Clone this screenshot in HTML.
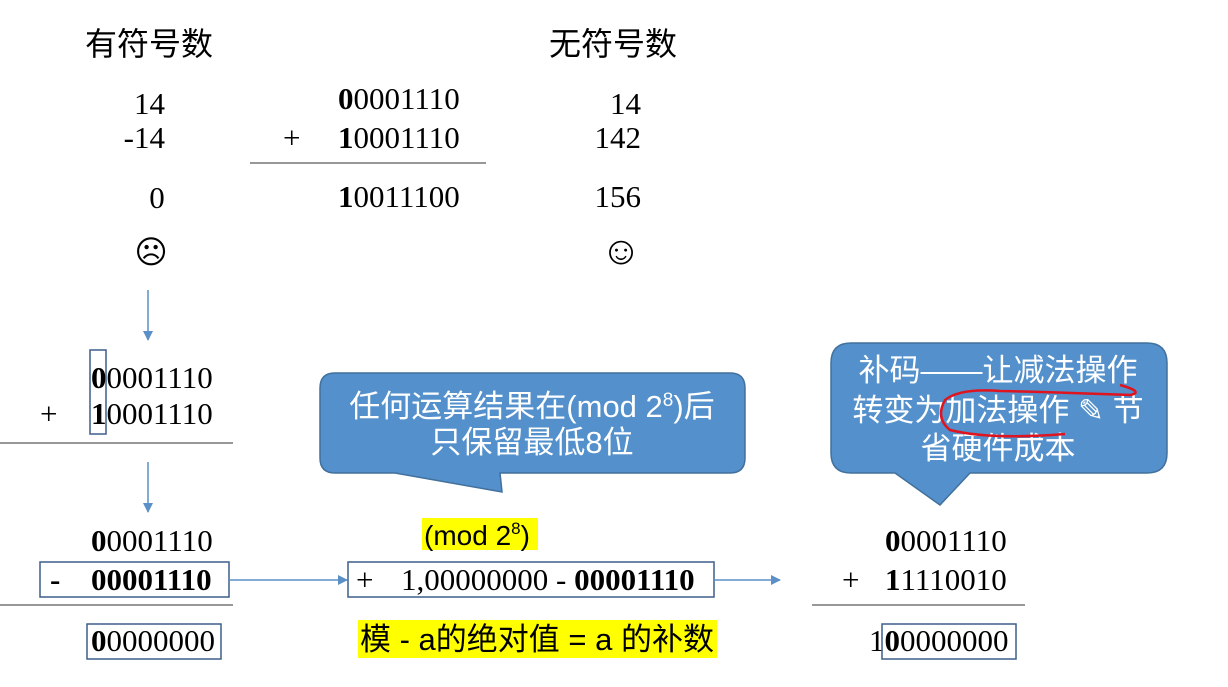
<!DOCTYPE html>
<html><head><meta charset="utf-8"><style>
html,body{margin:0;padding:0;background:#fff;}
svg{display:block;}
.s{font-family:"Liberation Serif",serif;font-size:31px;fill:#000;}
.c{font-family:"Liberation Sans","Noto Sans CJK SC",sans-serif;}
.b{font-weight:bold;}
</style></head><body>
<svg width="1228" height="687" viewBox="0 0 1228 687" xmlns="http://www.w3.org/2000/svg">
<defs><marker id="ah" markerWidth="10" markerHeight="10" refX="9" refY="5" orient="auto" markerUnits="userSpaceOnUse"><path d="M0,0 L10,5 L0,10 z" fill="#5b8fc7"/></marker></defs>
<g class="c" font-size="32" fill="#000">
<text x="85" y="55">有符号数</text>
<text x="549" y="55">无符号数</text>
</g>
<g class="s">
<text x="165" y="114" text-anchor="end">14</text>
<text x="165" y="148" text-anchor="end">-14</text>
<text x="157" y="208" text-anchor="middle">0</text>
<text x="338" y="109"><tspan class="b">0</tspan>0001110</text>
<text x="283" y="148">+</text>
<text x="338" y="148"><tspan class="b">1</tspan>0001110</text>
<text x="338" y="207"><tspan class="b">1</tspan>0011100</text>
<text x="641" y="114" text-anchor="end">14</text>
<text x="641" y="148" text-anchor="end">142</text>
<text x="641" y="207" text-anchor="end">156</text>
<text x="151" y="263" text-anchor="middle" font-size="32">☹</text>
<text x="621" y="264" text-anchor="middle" font-size="40">☺</text>
</g>
<line x1="250" y1="163" x2="486" y2="163" stroke="#777" stroke-width="1.5"/>
<line x1="148" y1="290" x2="148" y2="340" stroke="#5b8fc7" stroke-width="1.5" marker-end="url(#ah)"/>
<g class="s">
<text x="91" y="388"><tspan class="b">0</tspan>0001110</text>
<text x="40" y="424">+</text>
<text x="91" y="424"><tspan class="b">1</tspan>0001110</text>
</g>
<rect x="90" y="350" width="16" height="84" fill="none" stroke="#3d5f8a" stroke-width="1.5"/>
<line x1="0" y1="443" x2="233" y2="443" stroke="#777" stroke-width="1.5"/>
<line x1="148" y1="462" x2="148" y2="512" stroke="#5b8fc7" stroke-width="1.5" marker-end="url(#ah)"/>
<g class="s">
<text x="91" y="551"><tspan class="b">0</tspan>0001110</text>
<text x="50" y="590" class="b">-</text>
<text x="91" y="590" class="b">00001110</text>
<text x="91" y="651" class="b">0<tspan font-weight="normal">0000000</tspan></text>
</g>
<rect x="40" y="562" width="189" height="35" fill="none" stroke="#3d5f8a" stroke-width="1.5"/>
<rect x="87" y="624" width="134" height="35" fill="none" stroke="#3d5f8a" stroke-width="1.5"/>
<line x1="0" y1="605" x2="233" y2="605" stroke="#777" stroke-width="1.5"/>
<line x1="229" y1="580" x2="347" y2="580" stroke="#5b8fc7" stroke-width="1.5" marker-end="url(#ah)"/>
<rect x="348" y="562" width="366" height="35" fill="none" stroke="#3d5f8a" stroke-width="1.5"/>
<text class="s" x="356" y="590">+</text>
<text class="s" x="401" y="590">1,00000000 - <tspan class="b">00001110</tspan></text>
<line x1="714" y1="580" x2="780" y2="580" stroke="#5b8fc7" stroke-width="1.5" marker-end="url(#ah)"/>
<rect x="422" y="518" width="116" height="32" fill="#ffff00"/>
<text class="c" x="424" y="545" font-size="28">(mod 2<tspan font-size="17" dy="-11">8</tspan><tspan dy="11">)</tspan></text>
<rect x="358" y="620" width="359" height="38" fill="#ffff00"/>
<text class="c" x="360" y="650" font-size="31">模 - a的绝对值 = a 的补数</text>
<!-- callout 1 -->
<path d="M335,373 H730 Q745,373 745,388 V458 Q745,473 730,473 H500 L502,492 L395,473 H335 Q320,473 320,458 V388 Q320,373 335,373 Z" fill="#5390cc" stroke="#41719c" stroke-width="1.5"/>
<g class="c" fill="#fff" font-size="31" text-anchor="middle">
<text x="532" y="417">任何运算结果在(mod 2<tspan font-size="19" dy="-11">8</tspan><tspan dy="11">)后</tspan></text>
<text x="532" y="453">只保留最低8位</text>
</g>
<!-- callout 2 -->
<path d="M851,343 H1147 Q1167,343 1167,363 V453 Q1167,473 1147,473 H970 L940,505 L895,473 H851 Q831,473 831,453 V363 Q831,343 851,343 Z" fill="#5390cc" stroke="#41719c" stroke-width="1.5"/>
<g class="c" fill="#fff" font-size="31" text-anchor="middle">
<text x="998" y="381">补码——让减法操作</text>
<text x="998" y="421">转变为加法操作 ✎ 节</text>
<text x="998" y="459">省硬件成本</text>
</g>
<path d="M1120,385 Q1145,392 1130,395 Q1050,392 1000,391 Q960,388 945,400 Q935,418 950,430 Q990,440 1065,434" fill="none" stroke="#e0141e" stroke-width="2.5"/>
<g class="s">
<text x="885" y="551"><tspan class="b">0</tspan>0001110</text>
<text x="842" y="590">+</text>
<text x="885" y="590"><tspan class="b">1</tspan>1110010</text>
<text x="869" y="651">1<tspan class="b">0</tspan>0000000</text>
</g>
<line x1="812" y1="605" x2="1025" y2="605" stroke="#777" stroke-width="1.5"/>
<rect x="882" y="624" width="134" height="35" fill="none" stroke="#3d5f8a" stroke-width="1.5"/>
</svg>
</body></html>
